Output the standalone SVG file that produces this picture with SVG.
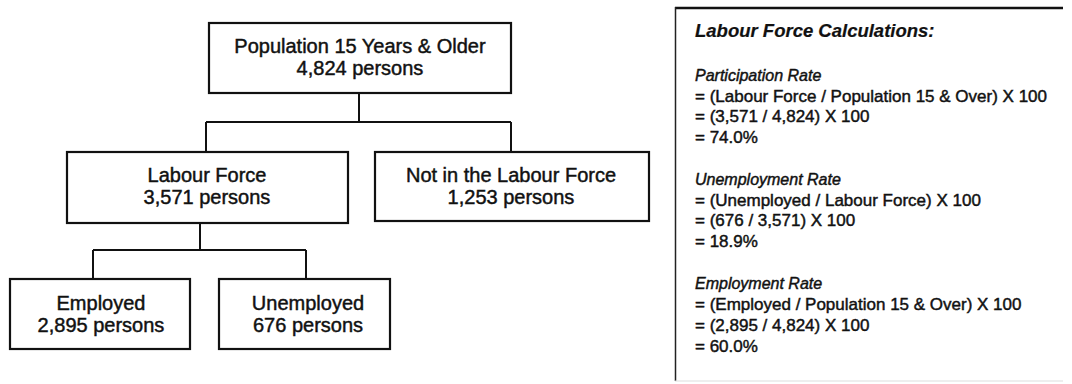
<svg xmlns="http://www.w3.org/2000/svg" width="1072" height="384" viewBox="0 0 1072 384">
  <style>
    .box { fill: #fff; stroke: #111; stroke-width: 2.2; }
    .conn { fill: none; stroke: #111; stroke-width: 2; }
    text { stroke: #111; stroke-width: 0.45; paint-order: stroke; }
    .nt { font-family: "Liberation Sans", Arial, sans-serif; font-size: 20px; fill: #111; text-anchor: middle; }
    .title { font-family: "Liberation Sans", Arial, sans-serif; font-size: 18.5px; font-weight: bold; font-style: italic; fill: #111; stroke-width: 0.2; }
    .rate { font-family: "Liberation Sans", Arial, sans-serif; font-size: 16px; font-style: italic; fill: #111; }
    .eq { font-family: "Liberation Sans", Arial, sans-serif; font-size: 17px; fill: #111; }
  </style>
  <rect width="1072" height="384" fill="#fff"/>

  <g id="connectors">
    <path class="conn" d="M359 93 V122 M206 122 H511 M206 122 V152 M511 122 V152"/>
    <path class="conn" d="M200 223 V250 M93 250 H306 M93 250 V279 M306 250 V279"/>
  </g>

  <g id="node-population">
    <rect class="box" x="209" y="23" width="302" height="70"/>
    <text class="nt" x="360" y="53">Population 15 Years &amp; Older</text>
    <text class="nt" x="360" y="75">4,824 persons</text>
  </g>

  <g id="node-labour-force">
    <rect class="box" x="67" y="152" width="281" height="71"/>
    <text class="nt" x="207" y="182">Labour Force</text>
    <text class="nt" x="207" y="204">3,571 persons</text>
  </g>

  <g id="node-not-in-labour-force">
    <rect class="box" x="375" y="152" width="274" height="69"/>
    <text class="nt" x="511" y="182">Not in the Labour Force</text>
    <text class="nt" x="511" y="204">1,253 persons</text>
  </g>

  <g id="node-employed">
    <rect class="box" x="10" y="279" width="180" height="70"/>
    <text class="nt" x="101" y="310">Employed</text>
    <text class="nt" x="101" y="332">2,895 persons</text>
  </g>

  <g id="node-unemployed">
    <rect class="box" x="219" y="279" width="171" height="70"/>
    <text class="nt" x="308" y="310">Unemployed</text>
    <text class="nt" x="308" y="332">676 persons</text>
  </g>

  <g id="calculations-panel">
    <line x1="675" y1="8" x2="1063" y2="8" stroke="#111" stroke-width="2.5"/>
    <line x1="675.5" y1="7" x2="675.5" y2="381" stroke="#222" stroke-width="1.5"/>
    <line x1="675" y1="381" x2="1063" y2="381" stroke="#ddd" stroke-width="1"/>
    <text class="title" x="695" y="37">Labour Force Calculations:</text>

    <text class="rate" x="695" y="81">Participation Rate</text>
    <text class="eq" x="695" y="102">= (Labour Force / Population 15 &amp; Over) X 100</text>
    <text class="eq" x="695" y="122">= (3,571 / 4,824) X 100</text>
    <text class="eq" x="695" y="143">= 74.0%</text>

    <text class="rate" x="695" y="185">Unemployment Rate</text>
    <text class="eq" x="695" y="206">= (Unemployed / Labour Force) X 100</text>
    <text class="eq" x="695" y="226">= (676 / 3,571) X 100</text>
    <text class="eq" x="695" y="247">= 18.9%</text>

    <text class="rate" x="695" y="289">Employment Rate</text>
    <text class="eq" x="695" y="310">= (Employed / Population 15 &amp; Over) X 100</text>
    <text class="eq" x="695" y="331">= (2,895 / 4,824) X 100</text>
    <text class="eq" x="695" y="352">= 60.0%</text>
  </g>
</svg>
